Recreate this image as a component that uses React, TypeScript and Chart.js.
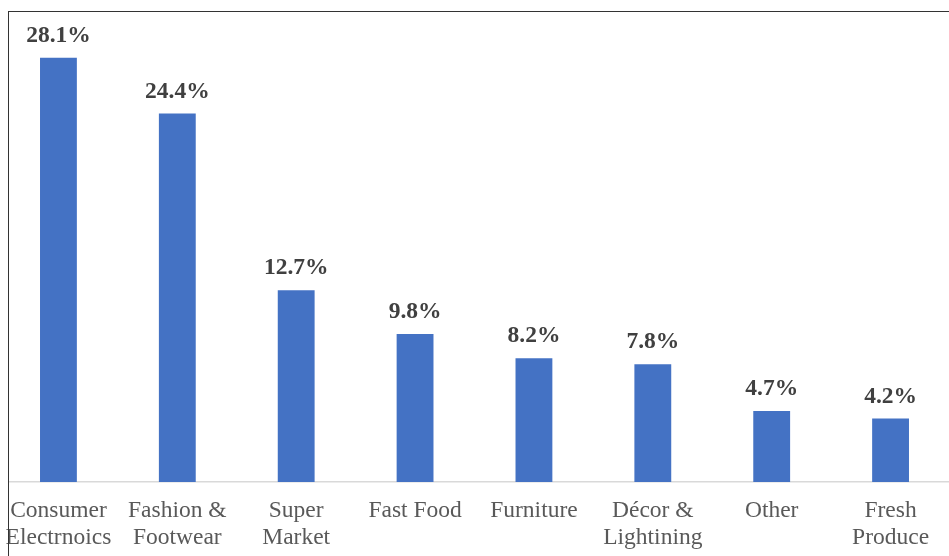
import React, { useEffect, useRef } from "react";
import { Chart, registerables } from "chart.js";

Chart.register(...registerables);

const categories: string[][] = [
  ["Consumer", "Electrnoics"],
  ["Fashion &", "Footwear"],
  ["Super", "Market"],
  ["Fast Food"],
  ["Furniture"],
  ["Décor &", "Lightining"],
  ["Other"],
  ["Fresh", "Produce"],
];
const shares: number[] = [28.1, 24.4, 12.7, 9.8, 8.2, 7.8, 4.7, 4.2];

const valueLabels = {
  id: "valueLabels",
  afterDatasetsDraw(chart: any) {
    const ctx = chart.ctx;
    const meta = chart.getDatasetMeta(0);
    ctx.save();
    ctx.font = "bold 23.5px 'Liberation Serif', 'Times New Roman', serif";
    ctx.fillStyle = "#404040";
    ctx.textAlign = "center";
    ctx.textBaseline = "alphabetic";
    meta.data.forEach((bar: any, i: number) => {
      ctx.fillText(shares[i].toFixed(1) + "%", bar.x, bar.y - 16);
    });
    ctx.restore();
  },
};

export default function App() {
  const ref = useRef<HTMLCanvasElement>(null);
  useEffect(() => {
    if (!ref.current) return;
    const chart = new Chart(ref.current, {
      type: "bar",
      data: {
        labels: categories,
        datasets: [
          {
            data: shares,
            backgroundColor: "#4472C4",
            borderWidth: 0,
            barPercentage: 0.62,
            categoryPercentage: 0.5,
          },
        ],
      },
      options: {
        animation: false,
        responsive: false,
        maintainAspectRatio: false,
        layout: { padding: { left: 19, right: 20, top: 29, bottom: 4 } },
        plugins: { legend: { display: false }, tooltip: { enabled: false } },
        scales: {
          x: {
            grid: { display: false, drawTicks: false },
            border: { display: true, color: "#d9d9d9", width: 1.5 },
            ticks: {
              color: "#595959",
              padding: 15,
              maxRotation: 0,
              autoSkip: false,
              font: { family: "'Liberation Serif', 'Times New Roman', serif", size: 23.5, lineHeight: 1.15 },
            },
          },
          y: { display: false, min: 0, max: 30 },
        },
      },
      plugins: [valueLabels],
    });
    return () => chart.destroy();
  }, []);
  return (
    <div style={{ position: "fixed", left: 0, top: 0, width: 949, height: 556, overflow: "hidden", background: "#fff" }}>
      <canvas
        ref={ref}
        width={990}
        height={570}
        style={{ position: "absolute", left: -20, top: 0, width: 990, height: 570 }}
      />
      <div
        style={{
          position: "absolute",
          left: 0,
          top: 470,
          width: 8,
          height: 20,
          background: "#fff",
          pointerEvents: "none",
        }}
      />
      <div
        style={{
          position: "absolute",
          left: 8,
          top: 11,
          width: 1000,
          height: 600,
          borderLeft: "1.5px solid #333",
          borderTop: "1.5px solid #333",
          pointerEvents: "none",
        }}
      />
    </div>
  );
}
